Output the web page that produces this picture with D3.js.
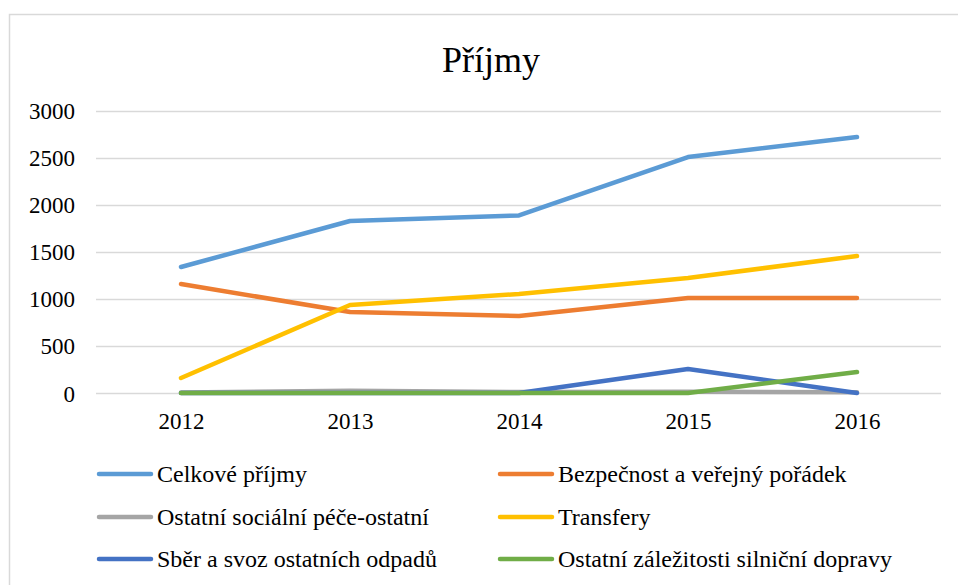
<!DOCTYPE html>
<html>
<head>
<meta charset="utf-8">
<script src="https://cdn.jsdelivr.net/npm/d3@7"></script>
<style>
  body { margin: 0; background: #fff; }
</style>
</head>
<body>
<div id="chart"></div>
<script>
const years = ["2012", "2013", "2014", "2015", "2016"];
const seriesNames = [
  "Celkové příjmy",
  "Bezpečnost a veřejný pořádek",
  "Ostatní sociální péče-ostatní",
  "Transfery",
  "Sběr a svoz ostatních odpadů",
  "Ostatní záležitosti silniční dopravy"
];
const celkove = [1338, 1827, 1885, 2506, 2719];
const bezpecnost = [1157, 860, 818, 1009, 1009];
const socialni = [5, 25, 10, 12, 8];
const transfery = [159, 935, 1051, 1221, 1455];
const sber = [0, 0, 0, 255, 0];
const silnicni = [0, 0, 0, 0, 223];
const yTicks = [0, 500, 1000, 1500, 2000, 2500, 3000];
const colors = ["#5B9BD5", "#ED7D31", "#A5A5A5", "#FFC000", "#4472C4", "#70AD47"];

const allValues = [celkove, bezpecnost, socialni, transfery, sber, silnicni];
const W = 958, H = 585;
const FONT = "Liberation Serif";

const svg = d3.select("#chart").append("svg")
  .attr("width", W)
  .attr("height", H);

// rámeček grafu
svg.append("rect")
  .attr("x", 9.5).attr("y", 14.5)
  .attr("width", 1000).attr("height", 700)
  .attr("fill", "#fff")
  .attr("stroke", "#d9d9d9")
  .attr("stroke-width", 1.5);

svg.append("text")
  .attr("x", 491).attr("y", 72)
  .attr("text-anchor", "middle")
  .attr("font-family", FONT)
  .attr("font-size", 36)
  .attr("fill", "#000")
  .text("Příjmy");

const x = d3.scalePoint().domain(years).range([181, 857]);
const y = d3.scaleLinear().domain([0, 3000]).range([393, 110.5]);

// mřížka
svg.append("g")
  .selectAll("line")
  .data(yTicks)
  .join("line")
  .attr("x1", 96).attr("x2", 941)
  .attr("y1", d => Math.round(y(d)) + 0.5)
  .attr("y2", d => Math.round(y(d)) + 0.5)
  .attr("stroke", "#d9d9d9")
  .attr("stroke-width", 1.3);

// osa y
const yAxis = d3.axisLeft(y).tickValues(yTicks).tickFormat(d3.format("d")).tickSize(0).tickPadding(0);
svg.append("g")
  .attr("transform", "translate(75,0)")
  .call(yAxis)
  .attr("font-family", FONT)
  .attr("font-size", 23)
  .call(g => g.select(".domain").remove())
  .selectAll("text")
  .attr("dy", "0.35em")
  .attr("fill", "#000");

// osa x
const xAxis = d3.axisBottom(x).tickSize(0).tickPadding(0);
svg.append("g")
  .attr("transform", "translate(0,413)")
  .call(xAxis)
  .attr("font-family", FONT)
  .attr("font-size", 23)
  .call(g => g.select(".domain").remove())
  .selectAll("text")
  .attr("dy", "0.71em")
  .attr("fill", "#000");

// čáry
const line = d3.line()
  .x((d, i) => x(years[i]))
  .y(d => y(d));

svg.append("g")
  .selectAll("path")
  .data(allValues)
  .join("path")
  .attr("d", d => line(d))
  .attr("fill", "none")
  .attr("stroke", (d, i) => colors[i])
  .attr("stroke-width", 4.5)
  .attr("stroke-linecap", "round")
  .attr("stroke-linejoin", "round");

// legenda
const legendCols = [99, 500];
const legendRows = [474, 517, 559];
const legend = svg.append("g")
  .selectAll("g")
  .data(seriesNames)
  .join("g")
  .attr("transform", (d, i) => `translate(${legendCols[i % 2]},${legendRows[Math.floor(i / 2)]})`);

legend.append("line")
  .attr("x1", 0).attr("x2", 52)
  .attr("stroke", (d, i) => colors[i])
  .attr("stroke-width", 4.5)
  .attr("stroke-linecap", "round");

legend.append("text")
  .attr("x", 58)
  .attr("dy", "0.33em")
  .attr("fill", "#000")
  .attr("font-family", FONT)
  .attr("font-size", 24)
  .text(d => d);
</script>
</body>
</html>
